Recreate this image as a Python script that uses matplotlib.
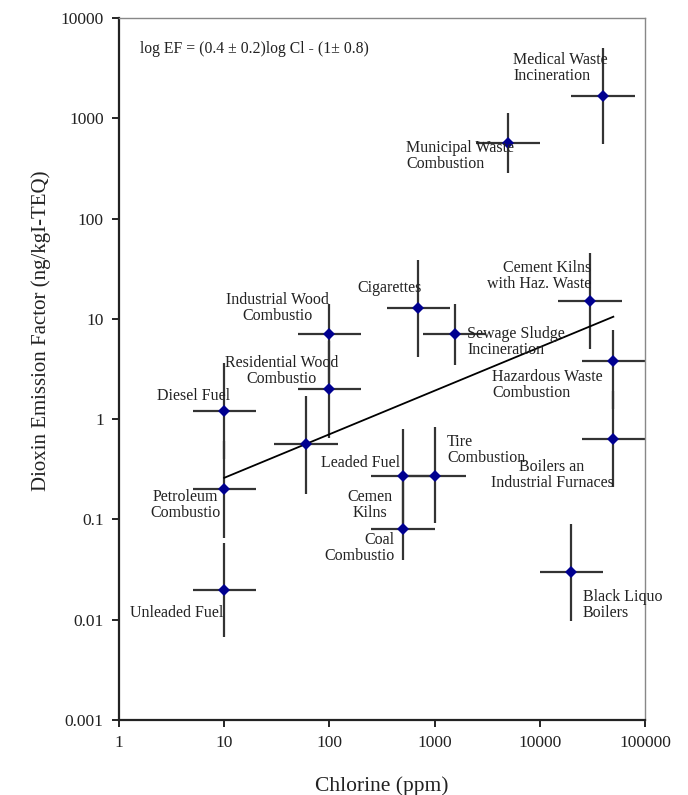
import numpy as np
import matplotlib
matplotlib.use('Agg')
import matplotlib.pyplot as plt
from matplotlib.ticker import FixedLocator, FixedFormatter

plt.rcParams['font.family'] = ['Liberation Serif', 'DejaVu Serif']

# source categories (chlorine ppm, dioxin EF) with error ranges
x = [10, 10, 10, 60, 100, 100, 700, 1550, 500, 500, 1000, 5000, 40000, 30000, 50000, 50000, 20000]
y = [0.02, 0.2, 1.2, 0.57, 2.0, 7.0, 12.8, 7.0, 0.27, 0.08, 0.27, 570, 1680, 15, 3.8, 0.63, 0.03]
x_lo = [5, 5, 5, 30, 50, 50, 350, 780, 250, 250, 500, 2500, 20000, 15000, 25000, 25000, 10000]
x_hi = [20, 20, 20, 120, 200, 200, 1400, 3100, 1000, 1000, 2000, 10000, 80000, 60000, 100000, 100000, 40000]
y_lo = [0.0067, 0.066, 0.4, 0.18, 0.65, 2.3, 4.2, 3.5, 0.09, 0.039, 0.092, 283, 560, 5, 1.27, 0.21, 0.0098]
y_hi = [0.058, 0.6, 3.6, 1.7, 6, 14, 39, 14, 0.8, 0.24, 0.83, 1120, 5000, 45, 7.7, 1.9, 0.09]

# regression line end points
fit_x = [10, 50000]
fit_y = [0.26, 10.5]

# labels: text, x, y, ha
labels = [
    ('Medical Waste\nIncineration', 5560, 3160, 'left'),
    ('Municipal Waste\nCombustion', 535, 424, 'left'),
    ('Industrial Wood\nCombustio', 32, 12.9, 'center'),
    ('Residential Wood\nCombustio', 35.4, 3.01, 'center'),
    ('Diesel Fuel', 5.1, 1.70, 'center'),
    ('Petroleum\nCombustio', 4.24, 0.1405, 'center'),
    ('Leaded Fuel', 83.2, 0.364, 'left'),
    ('Cemen\nKilns', 243, 0.1405, 'center'),
    ('Coal\nCombustio', 420, 0.0523, 'right'),
    ('Tire\nCombustion', 1312, 0.491, 'left'),
    ('Boilers an\nIndustrial Furnaces', 13060, 0.2766, 'center'),
    ('Hazardous Waste\nCombustion', 3513, 2.18, 'left'),
    ('Sewage Sludge\nIncineration', 2032, 5.86, 'left'),
    ('Cement Kilns\nwith Haz. Waste', 30690, 26.7, 'right'),
    ('Cigarettes', 369, 20.2, 'center'),
    ('Unleaded Fuel', 3.52, 0.01164, 'center'),
    ('Black Liquo\nBoilers', 25760, 0.0140, 'left'),
]

x_ticks = [1, 10, 100, 1000, 10000, 100000]
y_ticks = [0.001, 0.01, 0.1, 1, 10, 100, 1000, 10000]
x_ticklabels = ['1', '10', '100', '1000', '10000', '100000']
y_ticklabels = ['0.001', '0.01', '0.1', '1', '10', '100', '1000', '10000']

fig = plt.figure(figsize=(6.88, 7.95), dpi=100)
ax = fig.add_axes([0.173, 0.0943, 0.7645, 0.8831])
ax.set_xscale('log')
ax.set_yscale('log')

xa = np.array(x)
ya = np.array(y)
xerr = [xa - np.array(x_lo), np.array(x_hi) - xa]
yerr = [ya - np.array(y_lo), np.array(y_hi) - ya]
ax.errorbar(x, y, xerr=xerr, yerr=yerr, fmt='none', ecolor='#333333',
            elinewidth=1.6, capsize=0, zorder=2)
ax.plot(fit_x, fit_y, color='black', lw=1.3, zorder=3)
ax.plot(x, y, 'D', color='#000090', markersize=6, markeredgewidth=0, zorder=4)

for txt, tx, ty, ha in labels:
    ax.text(tx, ty, txt, ha=ha, va='center', multialignment=ha,
            fontsize=11.5, linespacing=1.0, color='#222222', zorder=5)

ax.text(1.58, 4890, 'log EF = (0.4 ± 0.2)log Cl - (1± 0.8)', ha='left', va='center',
        fontsize=11.3, color='#222222')

ax.set_xlim(1, 100000)
ax.set_ylim(0.001, 10000)
ax.xaxis.set_major_locator(FixedLocator(x_ticks))
ax.xaxis.set_major_formatter(FixedFormatter(x_ticklabels))
ax.xaxis.set_minor_locator(FixedLocator([]))
ax.yaxis.set_major_locator(FixedLocator(y_ticks))
ax.yaxis.set_major_formatter(FixedFormatter(y_ticklabels))
ax.yaxis.set_minor_locator(FixedLocator([]))
ax.tick_params(axis='both', direction='out', length=5, width=1.2,
               labelsize=12.5, labelcolor='#222222', pad=6)

for side in ['left', 'bottom']:
    ax.spines[side].set_linewidth(1.6)
    ax.spines[side].set_color('#222222')
for side in ['top', 'right']:
    ax.spines[side].set_linewidth(1.0)
    ax.spines[side].set_color('#888888')

ax.set_xlabel('Chlorine (ppm)', fontsize=15.5, color='#222222', labelpad=18)
ax.set_ylabel('Dioxin Emission Factor (ng/kgI-TEQ)', fontsize=15, color='#222222', labelpad=14)
ax.yaxis.set_label_coords(-0.13, 0.554)

fig.savefig('out.png', dpi=100)
